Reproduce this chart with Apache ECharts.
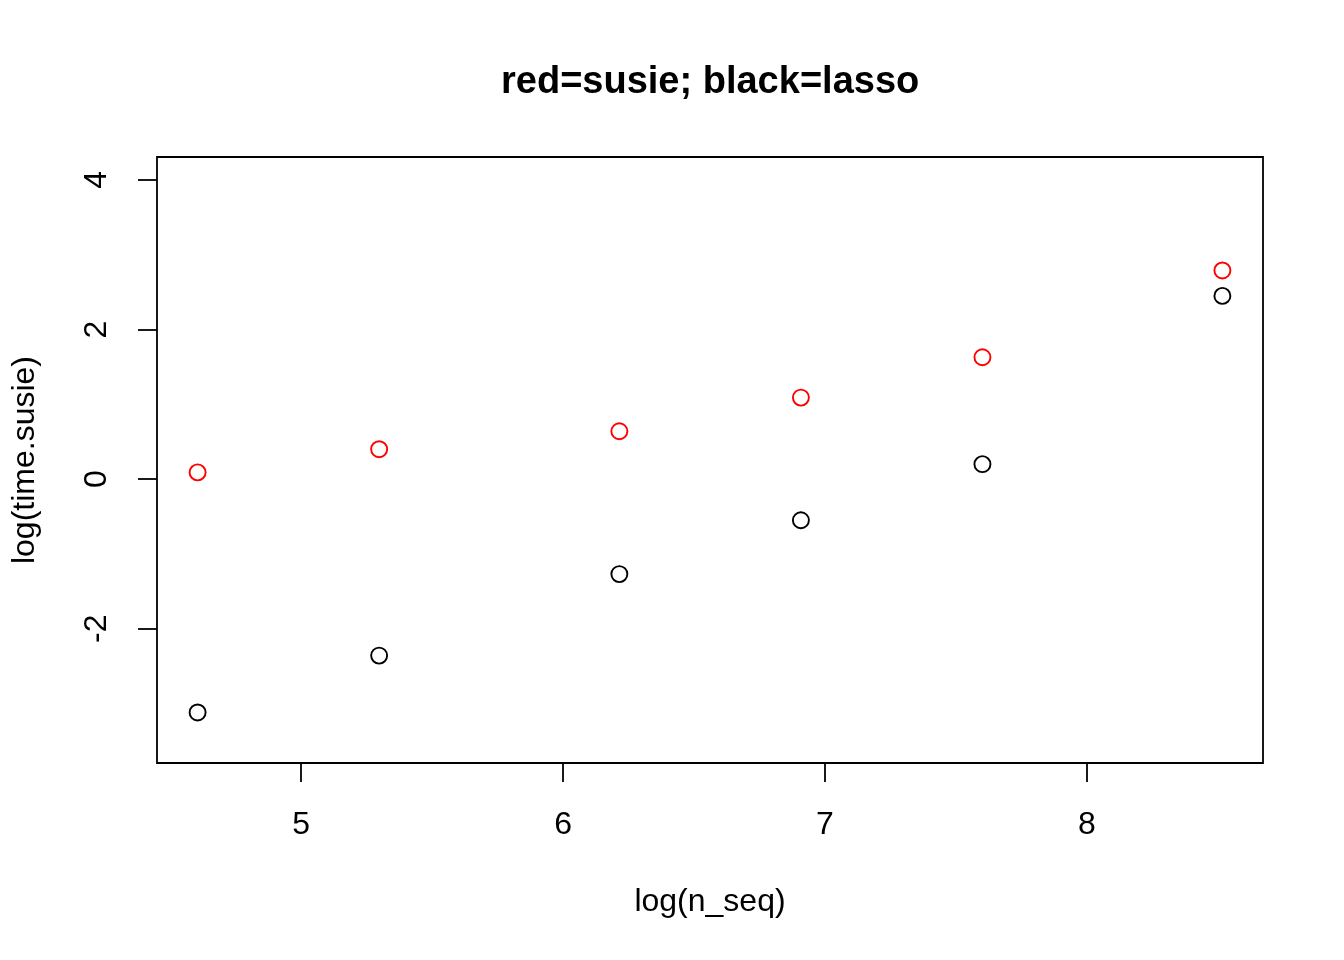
<!DOCTYPE html>
<html>
<head>
<meta charset="utf-8">
<script src="https://cdn.jsdelivr.net/npm/echarts@6/dist/echarts.min.js"></script>
<style>
html,body{margin:0;padding:0;background:#fff;}
#main{width:1344px;height:960px;}
</style>
</head>
<body>
<div id="main"></div>
<script>
// log(n_seq) values
var logN = [4.605, 5.298, 6.215, 6.908, 7.601, 8.517];
// log(time) values
var susieTime = [0.09, 0.40, 0.64, 1.09, 1.63, 2.79];
var lassoTime = [-3.12, -2.36, -1.27, -0.55, 0.20, 2.45];
var xTicks = [5, 6, 7, 8];
var yTicks = [-2, 0, 2, 4];

function pairs(xs, ys){
    var out = [];
    for (var i = 0; i < xs.length; i++) {
        out.push([xs[i], ys[i]]);
    }
    return out;
}

var font = '"Liberation Sans", Arial, sans-serif';
var chart = echarts.init(document.getElementById('main'));
var option = {
    backgroundColor: '#fff',
    animation: false,
    title: {
        text: 'red=susie; black=lasso',
        left: 501,
        top: 64,
        padding: 0,
        textStyle: {fontFamily: font, fontSize: 38, fontWeight: 'bold', color: '#000'}
    },
    grid: {
        left: 157, top: 157, width: 1106, height: 606,
        show: true, borderColor: '#000', borderWidth: 1.8, backgroundColor: 'transparent'
    },
    xAxis: {
        type: 'value',
        min: 4.450, max: 8.672,
        name: 'log(n_seq)',
        nameLocation: 'middle',
        nameGap: 123,
        nameTextStyle: {fontFamily: font, fontSize: 32, color: '#000'},
        axisLine: {show: false, onZero: false},
        splitLine: {show: false},
        axisTick: {show: true, inside: false, length: 19, customValues: xTicks,
            lineStyle: {color: '#000', width: 1.8}},
        axisLabel: {customValues: xTicks, margin: 46, fontFamily: font, fontSize: 32, color: '#000'}
    },
    yAxis: {
        type: 'value',
        min: -3.796, max: 4.307,
        name: 'log(time.susie)',
        nameLocation: 'middle',
        nameRotate: 90,
        nameGap: 116,
        nameTextStyle: {fontFamily: font, fontSize: 32, color: '#000'},
        axisLine: {show: false, onZero: false},
        splitLine: {show: false},
        axisTick: {show: true, inside: false, length: 19, customValues: yTicks,
            lineStyle: {color: '#000', width: 1.8}},
        axisLabel: {customValues: yTicks, rotate: 90, margin: 44, fontFamily: font, fontSize: 32, color: '#000'}
    },
    series: [{
        name: 'susie',
        type: 'scatter',
        symbol: 'circle',
        symbolSize: 16,
        data: pairs(logN, susieTime),
        itemStyle: {color: 'rgba(0,0,0,0)', borderColor: '#ff0000', borderWidth: 1.9, opacity: 1}
    }, {
        name: 'lasso',
        type: 'scatter',
        symbol: 'circle',
        symbolSize: 16,
        data: pairs(logN, lassoTime),
        itemStyle: {color: 'rgba(0,0,0,0)', borderColor: '#000', borderWidth: 1.9, opacity: 1}
    }]
};
chart.setOption(option);
</script>
</body>
</html>
